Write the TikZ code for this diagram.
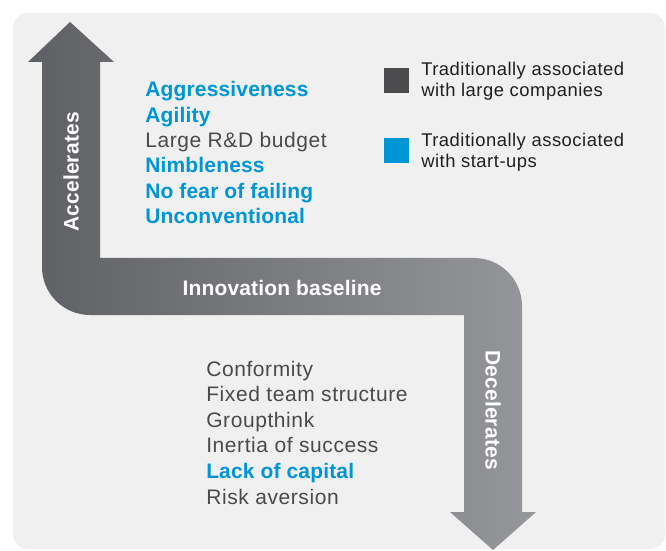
\documentclass[tikz,border=0pt]{standalone}
\usepackage{fontspec}
\setmainfont{Liberation Sans}[LetterSpace=2.8, BoldFeatures={LetterSpace=0.8}]
\usetikzlibrary{positioning}
\usepackage{xcolor}

\definecolor{panelgray}{HTML}{F0F0F0}
\definecolor{arrowdark}{HTML}{5F6063}
\definecolor{arrowlight}{HTML}{96979B}
\definecolor{largegray}{HTML}{4B4B4D}
\definecolor{startblue}{HTML}{0096D6}
\definecolor{textgray}{HTML}{4A4A4C}

\begin{document}
\begin{tikzpicture}[x=0.75pt, y=0.75pt,
        startup/.style={text=startblue, font=\fontsize{15.75}{19}\selectfont\bfseries},
        bigco/.style={text=textgray, font=\fontsize{15.75}{19}\selectfont},
        arrowlabel/.style={text=white, font=\fontsize{15.75}{19}\selectfont\bfseries, inner sep=0pt},
        legendtext/.style={text=black!88, font=\fontsize{13.8}{16}\selectfont, align=left, anchor=west, inner sep=0pt},
        swatch/.style={minimum size=18.75pt, inner sep=0pt}]
        \useasboundingbox (0,0) rectangle (666,550);
        \fill[panelgray, rounded corners=11pt] (13,1) rectangle (665,537);

        % up, across and down in one piece
        \shade[left color=arrowdark, right color=arrowlight]
            (70,528) -- (114,488) -- (100,488) -- (100,292) -- (474,292)
            arc[start angle=90, end angle=0, radius=48] -- (522,38) -- (536,38) -- (493,0) -- (450,38) -- (464,38)
            -- (464,235) -- (90,235)
            arc[start angle=270, end angle=180, radius=48] -- (42,488) -- (28,488) -- cycle;

        \node[arrowlabel, rotate=90] (accel) at (71,378) {Accelerates};
        \node[arrowlabel] (baseline) at (282,262) {Innovation baseline};
        \node[arrowlabel, rotate=-90] (decel) at (493,140) {Decelerates};

        \foreach \txt/\sty [count=\i] in {Aggressiveness/startup, Agility/startup, Large R\&D budget/bigco,
                Nimbleness/startup, No fear of failing/startup, Unconventional/startup}
            \node[\sty, anchor=base west, inner sep=0pt] (acc\i) at (145, {453-25.3*(\i-1)}) {\txt};

        \foreach \txt/\sty [count=\i] in {Conformity/bigco, Fixed team structure/bigco, Groupthink/bigco,
                Inertia of success/bigco, Lack of capital/startup, Risk aversion/bigco}
            \node[\sty, anchor=base west, inner sep=0pt] (dec\i) at (206, {174-25.6*(\i-1)}) {\txt};

        % legend
        \node[swatch, fill=largegray] (largebox) at (396.5,469.5) {};
        \node[swatch, fill=startblue] (startbox) at (396.5,399.5) {};
        \node[legendtext] (largetext) at (421,468.5) {Traditionally associated\\with large companies};
        \node[legendtext] (starttext) at (421,398) {Traditionally associated\\with start-ups};

      \end{tikzpicture}
\end{document}
